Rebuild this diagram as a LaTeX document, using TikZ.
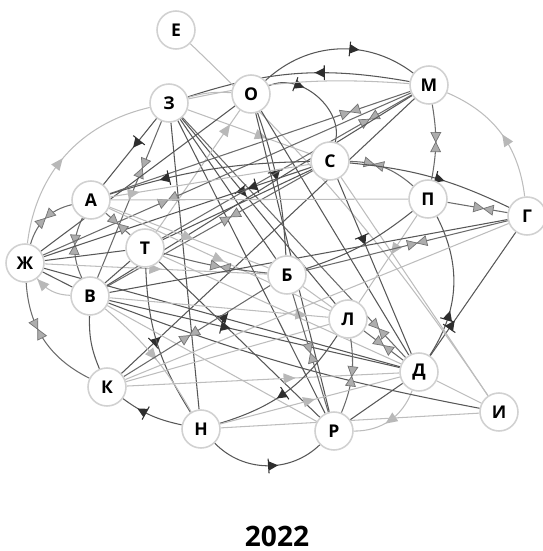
\documentclass[tikz,border=0pt]{standalone}
\usepackage{fontspec}
\setmainfont{Open Sans}
\usetikzlibrary{decorations.markings,backgrounds}

\tikzset{
  person/.style={circle, draw=black!18, line width=0.9pt, fill=white,
                 minimum size=0.76cm, inner sep=0pt,
                 font=\fontsize{10}{12}\selectfont\bfseries},
  darkline/.style={draw=black!66, line width=0.6pt},
  lightline/.style={draw=black!26, line width=0.6pt},
  darkedge/.style={darkline, postaction={decorate},
    decoration={markings, mark=at position #1 with {
      \fill[black!82] (3pt,0) -- (-2.4pt,2.7pt) -- (-2.4pt,-2.7pt) -- cycle;
      \draw[black!82, line width=0.6pt] (-2.4pt,-4.2pt) -- (-2.4pt,4.2pt);}}},
  darkedge/.default=0.5,
  twoway/.style={draw=black!58, line width=0.6pt, postaction={decorate},
    decoration={markings, mark=at position #1 with {
      \filldraw[fill=black!32, draw=black!55, line width=0.4pt]
        (0,0) -- (-5.5pt,2.8pt) -- (-5.5pt,-2.8pt) -- cycle
        (0,0) -- (5.5pt,2.8pt) -- (5.5pt,-2.8pt) -- cycle;}}},
  twoway/.default=0.5,
  lightedge/.style={lightline, postaction={decorate},
    decoration={markings, mark=at position #1 with {
      \fill[black!28] (3pt,0) -- (-3.8pt,3pt) -- (-3.8pt,-3pt) -- cycle;}}},
  lightedge/.default=0.5
}

\begin{document}
\begin{tikzpicture}[x=0.02cm, y=-0.02cm]
\useasboundingbox (0,0) rectangle (542,551);

% people
\node[person] (e) at (176,30) {Е};
\node[person] (z) at (169,103) {З};
\node[person] (o) at (251,94) {О};
\node[person] (m) at (429,85) {М};
\node[person] (s) at (330,161) {С};
\node[person] (a) at (91,200) {А};
\node[person] (p) at (428,199) {П};
\node[person] (g) at (527,216) {Г};
\node[person] (zh) at (25,263) {Ж};
\node[person] (t) at (145,248) {Т};
\node[person] (b) at (287,275) {Б};
\node[person] (v) at (90,296) {В};
\node[person] (l) at (348,319) {Л};
\node[person] (d) at (419,372) {Д};
\node[person] (k) at (107,387) {К};
\node[person] (i) at (499,412) {И};
\node[person] (n) at (201,429) {Н};
\node[person] (r) at (334,431) {Р};

\node[font=\fontsize{16}{18}\selectfont\bfseries, inner sep=0pt] (year) at (277,536) {2022};

\begin{scope}[on background layer]
% outer arcs
\draw[darkedge=0.6] (o) to[bend left=40] (m);
\draw[darkedge=0.4] (m) to[bend right=14] (z);
\draw[darkedge=0.3] (o) to[bend left=65] (s);
\draw[twoway] (m) to[bend left=10] (p);
\draw[lightedge=0.45] (g) to[bend right=30] (m);
\draw[twoway=0.65] (p) to[bend right=20] (s);
\draw[darkedge=0.55] (s) to[bend left=10] (g);
\draw[twoway=0.6] (p) -- (g);
\draw[twoway] (zh) to[bend left=30] (a);
\draw[twoway=0.4] (zh) to[bend right=30] (k);
\draw[lightedge=0.85] (v) to[bend left=25] (zh);
\draw[lightedge=0.45] (zh) to[bend left=35] (z);
\draw[twoway=0.45] (a) to[bend right=25] (v);
\draw[darkline] (v) to[bend right=12] (k);
\draw[darkedge=0.65] (n) to[bend left=12] (k);
\draw[darkedge=0.55] (n) to[bend right=45] (r);
\draw[lightedge=0.5] (d) to[bend left=35] (r);
\draw[darkedge=0.3] (d) to[bend right=30] (p);
\draw[darkedge=0.25] (d) -- (g);
\draw[lightline] (e) to[bend left=6] (i);

% lines from the top
\draw[lightline] (z) to[bend left=10] (o);
\draw[darkedge=0.38] (z) -- (a);
\draw[twoway=0.3] (z) -- (v);
\draw[darkline] (z) -- (n);
\draw[darkline] (z) -- (b);
\draw[darkedge=0.4] (z) -- (l);
\draw[twoway=0.88] (z) -- (d);
\draw[darkline] (z) -- (r);
\draw[lightedge=0.6] (z) -- (s);
\draw[darkline] (o) -- (zh);
\draw[darkedge=0.45] (o) to[bend left=8] (b);
\draw[darkline] (o) -- (r);
\draw[lightedge=0.85] (t) -- (o);
\draw[darkline] (o) -- (d);
\draw[twoway=0.2] (m) -- (a);
\draw[twoway=0.17] (m) -- (t);
\draw[twoway=0.66] (m) -- (zh);
\draw[darkline] (m) -- (v);
\draw[darkedge=0.12] (k) -- (m);
\draw[lightline] (m) to[bend right=8] (z);

% lines from С and П
\draw[darkedge=0.22] (s) -- (zh);
\draw[twoway=0.4] (s) -- (v);
\draw[darkline] (s) -- (t);
\draw[darkedge=0.72] (s) to[bend right=8] (a);
\draw[darkedge=0.35] (s) -- (d);
\draw[lightline] (s) -- (i);
\draw[lightedge=0.12] (a) -- (s);
\draw[lightline] (p) -- (a);
\draw[lightedge=0.4] (p) -- (l);
\draw[darkline] (p) to[bend left=10] (b);

% lines from the left
\draw[twoway] (a) -- (t);
\draw[lightedge=0.5] (a) -- (b);
\draw[lightedge=0.5] (a) -- (l);
\draw[darkline] (zh) -- (t);
\draw[darkline] (zh) -- (v);
\draw[lightedge=0.5] (zh) -- (b);
\draw[darkedge=0.5] (d) -- (zh);
\draw[twoway=0.55] (t) to[bend right=5] (b);
\draw[darkline] (t) -- (v);
\draw[darkline] (t) -- (r);
\draw[darkline] (t) to[bend right=15] (n);
\draw[lightline] (t) -- (d);
\draw[darkedge=0.4] (v) -- (d);
\draw[darkline] (v) to[bend right=5] (i);
\draw[lightedge=0.88] (v) -- (l);
\draw[lightedge=0.5] (v) to[bend left=10] (n);
\draw[lightline] (v) -- (r);
\draw[twoway=0.45] (k) -- (b);
\draw[lightedge=0.6] (k) -- (d);
\draw[lightline] (k) -- (l);

% lines from the right and bottom
\draw[darkline] (g) -- (v);
\draw[twoway=0.45] (g) -- (b);
\draw[lightline] (g) -- (k);
\draw[twoway] (l) -- (d);
\draw[twoway] (l) to[bend left=15] (r);
\draw[twoway] (b) -- (r);
\draw[lightline] (b) -- (l);
\draw[darkedge=0.55] (l) to[bend left=20] (n);
\draw[darkline] (r) -- (d);
\draw[lightedge=0.5] (n) -- (d);
\draw[lightline] (i) -- (d);
\draw[lightline] (i) -- (n);
\end{scope}
\end{tikzpicture}
\end{document}
